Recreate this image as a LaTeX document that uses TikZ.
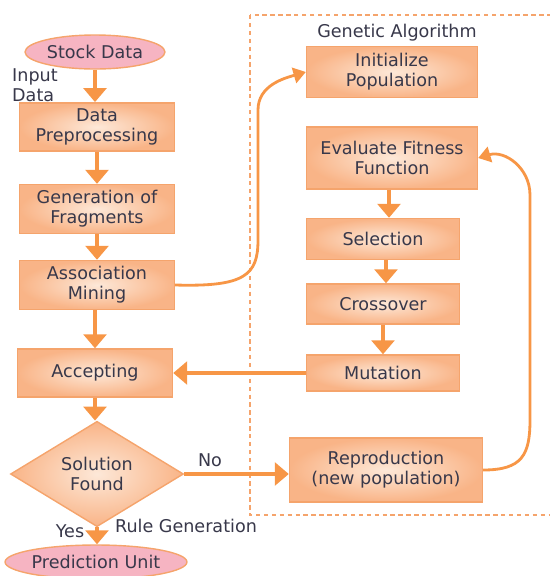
\documentclass[tikz,border=0pt]{standalone}
\usepackage{fontspec}
\setmainfont{DejaVu Sans}
\usetikzlibrary{shapes.geometric, arrows.meta, positioning}
\definecolor{boxorange}{HTML}{F5A46C}
\definecolor{boxlight}{HTML}{FDE8D8}
\definecolor{boxdark}{HTML}{F9B487}
\definecolor{arroworange}{HTML}{F79646}
\definecolor{ovalpink}{HTML}{F6B4C2}
\definecolor{textgray}{HTML}{38384A}

\begin{document}
\begin{tikzpicture}[
    x=0.02cm, y=-0.02cm,
    font=\fontsize{10}{11.5}\selectfont, text=textgray,
    stepbox/.style={rectangle, draw=boxorange, line width=0.8pt, inner color=boxlight, outer color=boxdark, align=center, minimum width=3.1cm, minimum height=0.92cm},
    oval/.style={ellipse, draw=boxorange, line width=0.8pt, fill=ovalpink, inner sep=0pt, minimum width=2.8cm, minimum height=0.68cm},
    decision/.style={diamond, draw=boxorange, line width=0.8pt, inner color=boxlight, outer color=boxdark, align=center, inner sep=0pt, minimum width=3.46cm, minimum height=1.84cm},
    flow/.style={draw=arroworange, line width=2.3pt, -{Triangle[width=13pt,length=8pt]}},
    curve/.style={draw=arroworange, line width=1.6pt, -{Triangle[width=9pt,length=7pt]}},
    gabox/.style={draw=boxorange, line width=0.6pt, dash pattern=on 2.5pt off 2pt}
]
    \useasboundingbox (0,0) rectangle (550,576);

    % Main flow
    \node[oval] (stock) at (95,52) {Stock Data};
    \node[align=left, anchor=west] (input) at (6,85) {Input\\Data};
    \node[stepbox, minimum height=0.94cm] (prep) at (97,127) {Data\\Preprocessing};
    \node[stepbox, minimum height=0.88cm] (frag) at (97,209) {Generation of\\Fragments};
    \node[stepbox, minimum height=0.98cm] (mine) at (97,285) {Association\\Mining};
    \node[stepbox, minimum height=0.96cm] (acc) at (95,373) {Accepting};
    \node[decision] (found) at (97,474) {Solution\\Found};
    \node[oval, minimum width=3.16cm] (pred) at (96,562) {Prediction Unit};

    \node (yes) at (70,531) {Yes};
    \node (rulegen) at (186,526) {Rule Generation};
    \node (no) at (210,460) {No};

    % Genetic Algorithm
    \draw[gabox] (250,15) rectangle (553,515);
    \node (gatitle) at (397,33) {Genetic Algorithm};

    \node[stepbox, minimum width=3.42cm, minimum height=1.02cm] (init) at (392,72) {Initialize\\Population};
    \node[stepbox, minimum width=3.42cm, minimum height=1.24cm] (eval) at (392,158) {Evaluate Fitness\\Function};
    \node[stepbox, minimum width=3.06cm, minimum height=0.82cm] (sel) at (383,239) {Selection};
    \node[stepbox, minimum width=3.06cm, minimum height=0.8cm] (cross) at (383,304) {Crossover};
    \node[stepbox, minimum width=3.06cm, minimum height=0.72cm] (mut) at (383,373) {Mutation};
    \node[stepbox, minimum width=3.86cm, minimum height=1.28cm] (repro) at (386,470) {Reproduction\\(new population)};

    % Arrows
    \draw[flow] (stock) -- (stock |- prep.north);
    \draw[flow] (prep) -- (frag);
    \draw[flow] (frag) -- (mine);
    \draw[flow] (mine.south -| acc) -- (acc);
    \draw[flow] (acc) -- (acc |- found.north);
    \draw[flow] (found) -- (found |- pred.north);

    \draw[flow] (eval.south -| 389,0) -- (389,0 |- sel.north);
    \draw[flow] (sel.south -| 386,0) -- (386,0 |- cross.north);
    \draw[flow] (cross) -- (mut);
    \draw[flow] (mut.west) -- (acc.east);
    \draw[flow] (found.east) -- (found.east -| repro.west);

    \coordinate (riseB) at (258,240);
    \coordinate (riseT) at (258,110);
    \draw[curve] (mine.east) .. controls (245,287) and (258,275) .. (riseB) -- (riseT) .. controls (258,85) and (285,78) .. (init.west);

    \coordinate (backB) at (530,420);
    \coordinate (backT) at (530,195);
    \draw[curve] (repro.east) .. controls (522,470) and (530,455) .. (backB) -- (backT) .. controls (530,168) and (505,150) .. (eval.east);
\end{tikzpicture}
\end{document}
